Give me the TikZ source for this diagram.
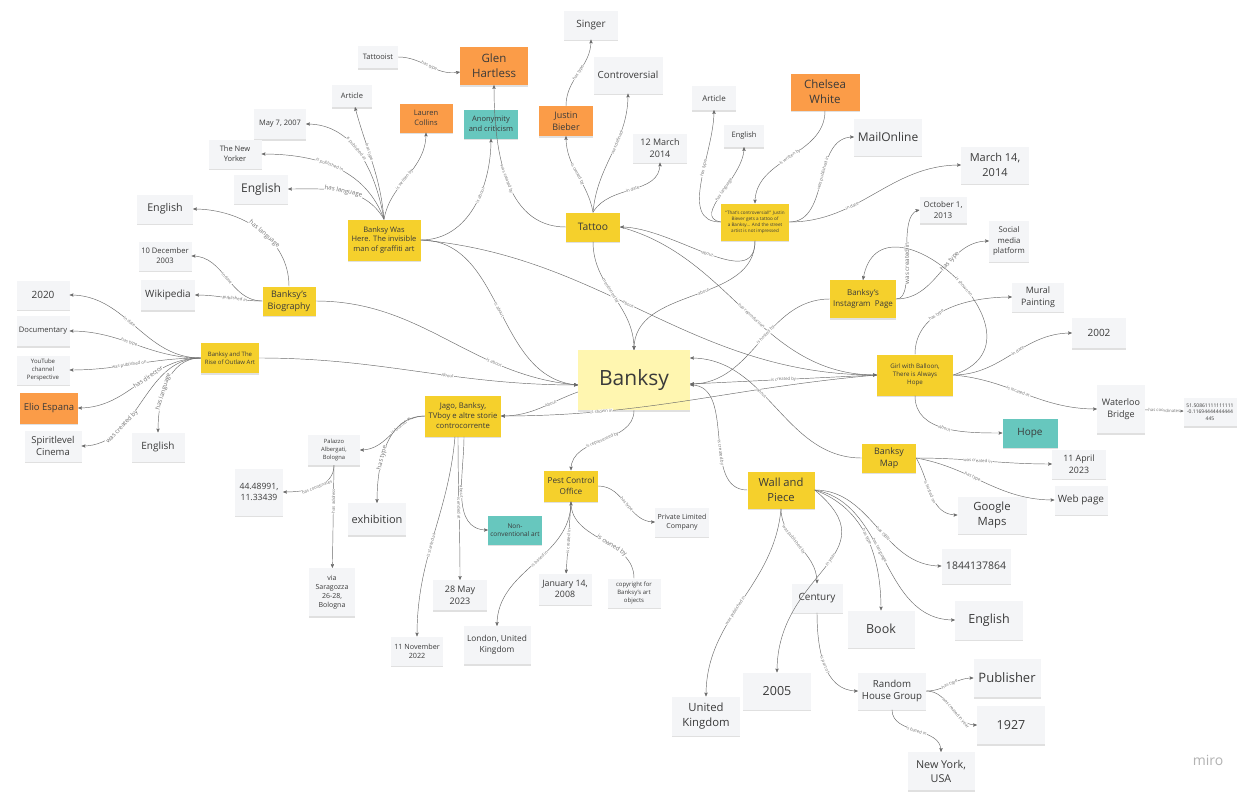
\documentclass[tikz,border=0pt]{standalone}
\usepackage{fontspec}
\setmainfont{Open Sans}
\usepackage{tikz}
\usetikzlibrary{arrows,shapes,shadows}
\definecolor{paper}{HTML}{F4F5F7}
\definecolor{stickyyellow}{HTML}{F5D02C}
\definecolor{stickyorange}{HTML}{FB9C48}
\definecolor{stickyteal}{HTML}{67C7BE}
\definecolor{stickypale}{HTML}{FFF6B0}
\definecolor{ink}{HTML}{3A3A3A}
\definecolor{wire}{HTML}{6B6B6B}
\newcommand\fs[1]{\fontsize{#1}{\fpeval{1.3*#1}}\selectfont}

\begin{document}
\begin{tikzpicture}[x=1pt,y=1pt,>=stealth',
    wh/.style 2 args={minimum width=#1pt,minimum height=#2pt}]
  \tikzstyle{note}=[rectangle,fill=paper,text=ink,align=center,inner sep=1pt,
                    drop shadow={shadow xshift=0pt,shadow yshift=-1.5pt,opacity=.2,fill=black!60}]
  \tikzstyle{yellow note}=[note,fill=stickyyellow]
  \tikzstyle{orange note}=[note,fill=stickyorange]
  \tikzstyle{teal note}=[note,fill=stickyteal]
  \tikzstyle{pale note}=[note,fill=stickypale]
  \tikzstyle{post}=[->,draw=wire,line width=.45pt]
  \tikzstyle{lbl}=[font=\fs{4.3},text=black!55,fill=white,inner sep=.3pt,sloped]
  \tikzstyle{big lbl}=[lbl,font=\fs{6.2}]
  \fill[white] (0,0) rectangle (1257,-795);
  \useasboundingbox (0,0) rectangle (1257,-795);

  % top left: the article
  \node[note,wh={40}{22},font=\fs{7.5}] (tattooist) at (378,-57) {Tattooist};
  \node[orange note,wh={68}{38},font=\fs{11.5}] (glen) at (494,-66) {Glen\\Hartless};
  \node[note,wh={40}{22},font=\fs{7.5}] (artA) at (352,-96) {Article};
  \node[orange note,wh={53}{29},font=\fs{7.5}] (lauren) at (426,-118) {Lauren\\Collins};
  \node[teal note,wh={54}{29},font=\fs{7.5}] (anon) at (491,-124) {Anonymity\\and criticism};
  \node[note,wh={52}{30},font=\fs{7.5}] (may7) at (280,-124) {May 7, 2007};
  \node[note,wh={53}{29},font=\fs{7.5}] (newyorker) at (235,-154) {The New\\Yorker};
  \node[note,wh={54}{29},font=\fs{12}] (engA) at (261,-189) {English};
  \node[yellow note,wh={73}{41},font=\fs{7.5}] (bwh) at (384,-240) {Banksy Was\\Here. The invisible\\man of graffiti art};

  % tattoo
  \node[note,wh={54}{29},font=\fs{10}] (singer) at (591,-25) {Singer};
  \node[note,wh={69}{37},font=\fs{9.8}] (contr) at (628,-75) {Controversial};
  \node[orange note,wh={54}{30},font=\fs{9}] (justin) at (566,-121) {Justin\\Bieber};
  \node[note,wh={54}{29},font=\fs{9}] (mar12) at (660,-148) {12 March\\2014};
  \node[yellow note,wh={54}{29},font=\fs{10.3}] (tattoo) at (593,-227) {Tattoo};

  % news item
  \node[note,wh={44}{24},font=\fs{8}] (artB) at (714,-98) {Article};
  \node[note,wh={40}{22},font=\fs{7.5}] (engB) at (744,-136) {English};
  \node[orange note,wh={69}{37},font=\fs{11.5}] (chelsea) at (825,-92) {Chelsea\\White};
  \node[note,wh={68}{37},font=\fs{12}] (mail) at (888,-137) {MailOnline};
  \node[note,wh={68}{37},font=\fs{11}] (mar14) at (995,-165) {March 14,\\2014};
  \node[yellow note,wh={68}{37},font=\fs{4.6}] (tc) at (755,-222) {``That's controversial!'' Justin\\Biever gets a tattoo of\\a Banksy... And the street\\artist is not impressed};

  % left: biography and film
  \node[note,wh={56}{29},font=\fs{10.7}] (engC) at (165,-209) {English};
  \node[note,wh={53}{29},font=\fs{7.6}] (dec10) at (165,-256) {10 December\\2003};
  \node[note,wh={54}{30},font=\fs{10}] (wiki) at (168,-295) {Wikipedia};
  \node[yellow note,wh={53}{29},font=\fs{9}] (bio) at (289,-301) {Banksy's\\Biography};
  \node[note,wh={53}{29},font=\fs{10}] (y2020) at (43,-295) {2020};
  \node[note,wh={53}{30},font=\fs{7.6}] (docu) at (43,-331) {Documentary};
  \node[note,wh={53}{29},font=\fs{6}] (youtube) at (43,-370) {YouTube\\channel\\Perspective};
  \node[orange note,wh={58}{31},font=\fs{9.5}] (elio) at (49,-408) {Elio Espana};
  \node[note,wh={57}{31},font=\fs{9.5}] (spirit) at (53,-446) {Spiritlevel\\Cinema};
  \node[note,wh={53}{29},font=\fs{10}] (engD) at (158,-447) {English};
  \node[yellow note,wh={58}{30},font=\fs{6}] (bro) at (230,-358) {Banksy and The\\Rise of Outlaw Art};

  \node[pale note,wh={112}{60},font=\fs{21}] (banksy) at (634,-380) {Banksy};

  % exhibition
  \node[yellow note,wh={76}{41},font=\fs{7.7}] (jago) at (463,-416) {Jago, Banksy,\\TVboy e altre storie\\controcorrente};
  \node[note,wh={52}{30},font=\fs{5.8}] (palazzo) at (334,-450) {Palazzo\\Albergati,\\Bologna};
  \node[note,wh={48}{47},font=\fs{8.6}] (coordsA) at (259,-492) {44.48991,\\11.33439};
  \node[note,wh={58}{32},font=\fs{11}] (exhib) at (377,-519) {exhibition};
  \node[note,wh={46}{48},font=\fs{7}] (via) at (332,-592) {via\\Saragozza\\26-28,\\Bologna};
  \node[teal note,wh={54}{29},font=\fs{6.5}] (nonconv) at (515,-530) {Non-\\conventional art};
  \node[note,wh={54}{30},font=\fs{9}] (may28) at (460,-595) {28 May\\2023};
  \node[note,wh={52}{29},font=\fs{7.2}] (nov11) at (417,-651) {11 November\\2022};

  % company
  \node[yellow note,wh={54}{31},font=\fs{8.2}] (pco) at (571,-486) {Pest Control\\Office};
  \node[note,wh={54}{29},font=\fs{7}] (ltd) at (682,-522) {Private Limited\\Company};
  \node[note,wh={53}{31},font=\fs{8.8}] (jan14) at (565,-589) {January 14,\\2008};
  \node[note,wh={53}{29},font=\fs{6}] (copyr) at (634,-593) {copyright for\\Banksy's art\\objects};
  \node[note,wh={67}{38},font=\fs{8.3}] (london) at (497,-645) {London, United\\Kingdom};

  % book
  \node[yellow note,wh={67}{37},font=\fs{11.2}] (wap) at (781,-490) {Wall and\\Piece};
  \node[note,wh={51}{29},font=\fs{10}] (century) at (817,-598) {Century};
  \node[note,wh={67}{37},font=\fs{12.5}] (book) at (881,-629) {Book};
  \node[note,wh={68}{39},font=\fs{12.5}] (engE) at (989,-620) {English};
  \node[note,wh={69}{35},font=\fs{10.5}] (isbn) at (976,-566) {1844137864};
  \node[note,wh={68}{39},font=\fs{11.3}] (uk) at (706,-716) {United\\Kingdom};
  \node[note,wh={68}{37},font=\fs{12.5}] (y2005) at (777,-691) {2005};
  \node[note,wh={68}{37},font=\fs{9.7}] (rhg) at (892,-691) {Random\\House Group};
  \node[note,wh={67}{38},font=\fs{13}] (publisher) at (1007,-678) {Publisher};
  \node[note,wh={68}{38},font=\fs{12.5}] (y1927) at (1011,-725) {1927};
  \node[note,wh={67}{38},font=\fs{10.8}] (ny) at (941,-771) {New York,\\USA};

  % right: the mural
  \node[yellow note,wh={66}{38},font=\fs{8}] (insta) at (863,-299) {Banksy's\\Instagram\ \ Page};
  \node[note,wh={47}{26},font=\fs{8}] (oct1) at (943,-210) {October 1,\\2013};
  \node[note,wh={40}{41},font=\fs{7.8}] (social) at (1009,-241) {Social\\media\\platform};
  \node[note,wh={52}{29},font=\fs{8.9}] (mural) at (1038,-297) {Mural\\Painting};
  \node[note,wh={54}{30},font=\fs{10}] (y2002) at (1099,-333) {2002};
  \node[yellow note,wh={76}{41},font=\fs{6.2}] (gwb) at (915,-375) {Girl with Balloon,\\There is Always\\Hope};
  \node[note,wh={48}{48},font=\fs{9}] (waterloo) at (1121,-409) {Waterloo\\Bridge};
  \node[note,wh={53}{28},font=\fs{5}] (coordsB) at (1210,-412) {51.50861111111111\\-0.11694444444444\\445};
  \node[teal note,wh={55}{29},font=\fs{10}] (hope) at (1030,-433) {Hope};
  \node[yellow note,wh={54}{29},font=\fs{8.9}] (bmap) at (889,-458) {Banksy\\Map};
  \node[note,wh={54}{29},font=\fs{8.8}] (apr11) at (1079,-464) {11 April\\2023};
  \node[note,wh={53}{29},font=\fs{10}] (webpage) at (1081,-500) {Web page};
  \node[note,wh={69}{37},font=\fs{11.3}] (gmaps) at (992,-515) {Google\\Maps};

  \node[text=black!30,font=\fs{14}] (miro) at (1208,-760) {miro};

  % article edges
  \draw[post] (tattooist) to[out=0,in=190] node[lbl] {has type} (glen);
  \draw[post] (bwh.north) to[out=95,in=-75] node[lbl,pos=.6] {has type} (artA);
  \draw[post] (bwh.north) to[out=100,in=0] node[lbl,pos=.55] {is published at} (may7);
  \draw[post] (bwh.north) to[out=110,in=0] node[lbl,pos=.55] {is published in} (newyorker);
  \draw[post] (bwh.north) to[out=120,in=0] node[big lbl,pos=.5] {has language} (engA);
  \draw[post] (bwh.north) to[out=80,in=-90] node[lbl,pos=.45] {is written by} (lauren);
  \draw[post] (bwh.east) to[out=0,in=-90] node[lbl,pos=.6] {is about} (anon);
  \draw[post] (bwh.east) to[out=0,in=175] node[lbl] {is about} ([yshift=-5pt]banksy.west);
  \draw[post] (bwh.east) to[out=-5,in=180] node[lbl,pos=.45] {about} (gwb.west);

  % tattoo edges
  \draw[post] (tattoo.north) to[out=100,in=-90] node[lbl] {is owned by} (justin);
  \draw[post] (tattoo.north) to[out=85,in=-90] node[lbl,pos=.6] {was defined} (contr);
  \draw[post] (tattoo.north) to[out=60,in=-90] node[lbl] {in date} (mar12);
  \draw[post] (tattoo.west) to[out=180,in=-90] node[lbl] {was created by} (glen);
  \draw[post] (tattoo.south) to[out=-90,in=90] node[lbl,pos=.45] {mentioned by} (banksy.north);
  \draw[post] (tattoo.east) to[out=-15,in=180] node[lbl,pos=.52] {has reproduction} (gwb.west);
  \draw[post] (justin) to[out=90,in=-90] node[lbl] {has type} (singer);

  % news edges
  \draw[post] (tc.west) to[out=180,in=-90] node[lbl,pos=.6] {has type} (artB);
  \draw[post] (tc.west) to[out=170,in=-90] node[lbl,pos=.55] {has language} (engB);
  \draw[post] (chelsea) to[out=-90,in=90] node[lbl] {is written by} (tc);
  \draw[post] (tc.east) to[out=0,in=180] node[lbl,pos=.55] {was published in} (mail);
  \draw[post] (tc.east) to[out=0,in=180] node[lbl,pos=.35] {in date} (mar14);
  \draw[post] (tc.south) to[out=-90,in=0] node[lbl,pos=.5] {about} (tattoo.east);
  \draw[post] (tc.south) to[out=-90,in=90] node[lbl,pos=.45] {about} (banksy.north);

  % biography and film edges
  \draw[post] (bio) to[out=90,in=0] node[big lbl,pos=.45] {has language} (engC);
  \draw[post] (bio.west) to[out=180,in=0] node[lbl] {in date} (dec10);
  \draw[post] (bio.west) to[out=180,in=0] node[lbl,pos=.4] {published in} (wiki);
  \draw[post] (bio.east) to[out=0,in=175] node[lbl,pos=.7] {is about} ([yshift=-5pt]banksy.west);
  \draw[post] (bro.west) to[out=180,in=0] node[lbl,pos=.55] {in date} (y2020);
  \draw[post] (bro.west) to[out=180,in=0] node[lbl,pos=.55] {has type} (docu);
  \draw[post] (bro.west) to[out=180,in=0] node[lbl,pos=.55] {was published on} (youtube);
  \draw[post] (bro.west) to[out=180,in=0] node[big lbl,pos=.42] {has director} (elio);
  \draw[post] (bro.west) to[out=180,in=0] node[big lbl,pos=.7] {was created by} (spirit);
  \draw[post] (bro.west) to[out=180,in=90] node[big lbl,pos=.6] {has language} (engD);
  \draw[post] (bro.east) to[out=0,in=180] node[lbl,pos=.6] {About} ([yshift=-5pt]banksy.west);

  % exhibition edges
  \draw[post] ([yshift=-12pt]banksy.west) to[out=200,in=0] node[lbl,pos=.35] {About} (jago.east);
  \draw[post] (jago.west) to[out=180,in=0] node[lbl,pos=.35] {is located at} (palazzo);
  \draw[post] (jago.west) to[out=180,in=90] node[big lbl,pos=.62] {has type} (exhib);
  \draw[post] ([xshift=1pt]jago.south) to[out=-90,in=180] node[lbl,pos=.45] {about} (nonconv);
  \draw[post] ([xshift=-5pt]jago.south) to[out=-90,in=90] node[lbl,pos=.5] {is ended at} (may28);
  \draw[post] ([xshift=-8pt]jago.south) to[out=-95,in=90] node[lbl,pos=.55] {is started at} (nov11);
  \draw[post] (palazzo.south) to[out=-90,in=0] node[lbl] {has coordinates} (coordsA);
  \draw[post] (palazzo.south) -- node[lbl,pos=.35] {has address} (via);

  % company edges
  \draw[post] (banksy.south) to[out=-90,in=90] node[lbl] {is represented by} (pco);
  \draw[post] (pco.east) to[out=0,in=180] node[lbl] {has type} (ltd);
  \draw[post] (pco.south) -- node[lbl,pos=.55] {is created in} (jan14);
  \draw[post] (copyr) to[out=90,in=-90] node[big lbl,pos=.4] {is owned by} (pco.south);
  \draw[post] (pco.south) to[out=-90,in=90] node[lbl,pos=.45] {is based in} (london);

  % book edges
  \draw[post] (wap.west) to[out=180,in=0] node[lbl,pos=.4] {is created by} ([yshift=-5pt]banksy.east);
  \draw[post] (wap.south) to[out=-90,in=90] node[lbl,pos=.4] {was published by} (century);
  \draw[post] (wap.south) to[out=-95,in=90] node[lbl,pos=.55] {was published in} (uk);
  \draw[post] (wap.east) to[out=-40,in=90,looseness=1.4] node[lbl,pos=.45] {in year} (y2005);
  \draw[post] (wap.east) to[out=-20,in=90] node[lbl,pos=.5] {has type} (book);
  \draw[post] (wap.east) to[out=-10,in=180] node[lbl,pos=.45] {has language} (engE);
  \draw[post] (wap.east) to[out=0,in=180] node[lbl,pos=.55] {has ISBN} (isbn);
  \draw[post] (century) to[out=-90,in=180] node[lbl] {is part of} (rhg);
  \draw[post] (rhg.east) to[out=0,in=180] node[lbl,pos=.5] {has type} (publisher);
  \draw[post] (rhg.east) to[out=0,in=180] node[lbl,pos=.6] {was created in year} (y1927);
  \draw[post] (rhg) to[out=-90,in=90] node[lbl] {is based in} (ny);

  % mural edges
  \draw[post] (insta.east) .. controls (918,-300) and (895,-215) .. (oct1.west)
    node[big lbl,pos=.45] {was created in};
  \draw[post] (insta.east) to[out=0,in=180] node[big lbl,pos=.6] {has type} (social);
  \draw[post] (gwb.east) .. controls (1060,-340) and (880,-180) .. (insta.north)
    node[lbl,pos=.45] {is shown on};
  \draw[post] (gwb.north) to[out=90,in=180] node[lbl,pos=.4] {has type} (mural);
  \draw[post] (gwb.east) to[out=0,in=180] node[lbl,pos=.55] {in date} (y2002);
  \draw[post] (gwb.east) to[out=-5,in=180] node[lbl,pos=.45] {is located at} (waterloo);
  \draw[post] (gwb.south) to[out=-90,in=180] node[lbl] {About} (hope);
  \draw[post] (gwb.west) -- node[lbl] {is created by} ([yshift=-4pt]banksy.east);
  \draw[post] (gwb.west) to[out=185,in=0] node[lbl,pos=.75] {is shown in} (jago.east);
  \draw[post] (waterloo) -- node[lbl] {has coordinates} (coordsB);
  \draw[post] (insta.west) to[out=180,in=0] node[lbl,pos=.45] {is hosted by} ([yshift=-4pt]banksy.east);

  % map edges
  \draw[post] (bmap.east) to[out=0,in=180] node[lbl,pos=.45] {was created in} (apr11);
  \draw[post] (bmap.east) to[out=-10,in=180] node[lbl,pos=.4] {has type} (webpage);
  \draw[post] (bmap.east) to[out=-60,in=180] node[lbl,pos=.45] {is hosted on} (gmaps);
  \draw[post] (bmap.west) to[out=180,in=0] node[lbl,pos=.6] {about} ([yshift=22pt]banksy.east);
\end{tikzpicture}
\end{document}
